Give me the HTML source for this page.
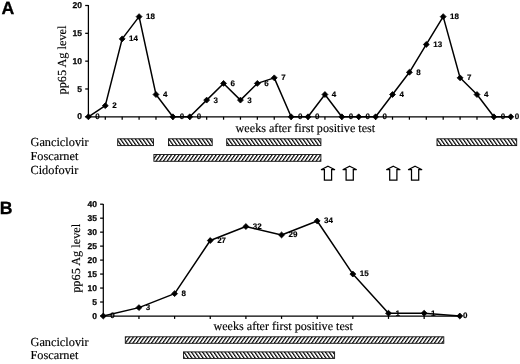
<!DOCTYPE html>
<html><head><meta charset="utf-8"><title>Figure</title>
<style>
html,body{margin:0;padding:0;background:#fff;}
body{width:520px;height:364px;overflow:hidden;font-family:"Liberation Sans",sans-serif;}
svg{display:block;filter:grayscale(1)}
text{text-rendering:geometricPrecision}
.s{font-family:"Liberation Serif",serif;font-size:12.3px;fill:#000;stroke:#000;stroke-width:0.15px}
.b{font-family:"Liberation Sans",sans-serif;font-weight:bold;font-size:8.5px;fill:#000;stroke:#000;stroke-width:0.25px}
.l{font-family:"Liberation Sans",sans-serif;font-weight:bold;font-size:8px;fill:#000;stroke:#000;stroke-width:0.15px}
.x{font-family:"Liberation Serif",serif;font-size:12.15px;fill:#000;stroke:#000;stroke-width:0.15px}
.p{font-family:"Liberation Sans",sans-serif;font-weight:bold;font-size:17.7px;fill:#000;stroke:#000;stroke-width:0.3px}
</style></head><body>
<svg width="520" height="364" viewBox="0 0 520 364">
<defs>
<pattern id="hb" width="3.05" height="10" patternUnits="userSpaceOnUse" patternTransform="rotate(-35)"><rect width="3.05" height="10" fill="#fff"/><rect width="1.2" height="10" fill="#000"/></pattern>
<pattern id="hf" width="3.05" height="10" patternUnits="userSpaceOnUse" patternTransform="rotate(35)"><rect width="3.05" height="10" fill="#fff"/><rect width="1.2" height="10" fill="#000"/></pattern>
</defs>
<rect width="520" height="364" fill="#fff"/>

<g stroke="#000" stroke-width="1.25" fill="none">
<path d="M88.40 5V116.8H510.5"/>
<path d="M85.20 116.80H88.40"/>
<path d="M85.20 88.97H88.40"/>
<path d="M85.20 61.15H88.40"/>
<path d="M85.20 33.32H88.40"/>
<path d="M85.20 5.50H88.40"/>
<path d="M105.30 116.8V119.7"/>
<path d="M122.19 116.8V119.7"/>
<path d="M139.09 116.8V119.7"/>
<path d="M155.98 116.8V119.7"/>
<path d="M172.88 116.8V119.7"/>
<path d="M189.77 116.8V119.7"/>
<path d="M206.67 116.8V119.7"/>
<path d="M223.56 116.8V119.7"/>
<path d="M240.46 116.8V119.7"/>
<path d="M257.35 116.8V119.7"/>
<path d="M274.25 116.8V119.7"/>
<path d="M291.14 116.8V119.7"/>
<path d="M308.03 116.8V119.7"/>
<path d="M324.93 116.8V119.7"/>
<path d="M341.82 116.8V119.7"/>
<path d="M358.72 116.8V119.7"/>
<path d="M375.62 116.8V119.7"/>
<path d="M392.51 116.8V119.7"/>
<path d="M409.40 116.8V119.7"/>
<path d="M426.30 116.8V119.7"/>
<path d="M443.20 116.8V119.7"/>
<path d="M460.09 116.8V119.7"/>
<path d="M476.99 116.8V119.7"/>
<path d="M493.88 116.8V119.7"/>
<path d="M510.77 116.8V119.7"/>
</g>
<text class="b" x="82.00" y="119.40" text-anchor="end">0</text>
<text class="b" x="82.00" y="91.57" text-anchor="end">5</text>
<text class="b" x="82.00" y="63.75" text-anchor="end">10</text>
<text class="b" x="82.00" y="35.92" text-anchor="end">15</text>
<text class="b" x="82.00" y="8.10" text-anchor="end">20</text>
<polyline fill="none" stroke="#000" stroke-width="1.5" stroke-linejoin="round" points="88.40,116.80 105.30,105.67 122.19,38.89 139.09,16.63 155.98,94.54 172.88,116.80 189.77,116.80 206.67,100.10 223.56,83.41 240.46,100.10 257.35,83.41 274.25,77.84 291.14,116.80 308.03,116.80 324.93,94.54 341.82,116.80 358.72,116.80 375.62,116.80 392.51,94.54 409.40,72.28 426.30,44.45 443.20,16.63 460.09,77.84 476.99,94.54 493.88,116.80 510.77,116.80"/>
<g fill="#000" stroke="#000" stroke-width="0.8" stroke-linejoin="round"><path d="M85.45 116.80L88.40 113.85L91.35 116.80L88.40 119.75Z"/><path d="M102.34 105.67L105.30 102.72L108.25 105.67L105.30 108.62Z"/><path d="M119.24 38.89L122.19 35.94L125.14 38.89L122.19 41.84Z"/><path d="M136.14 16.63L139.09 13.68L142.03 16.63L139.09 19.58Z"/><path d="M153.03 94.54L155.98 91.59L158.93 94.54L155.98 97.49Z"/><path d="M169.93 116.80L172.88 113.85L175.82 116.80L172.88 119.75Z"/><path d="M186.82 116.80L189.77 113.85L192.72 116.80L189.77 119.75Z"/><path d="M203.72 100.10L206.67 97.15L209.62 100.10L206.67 103.05Z"/><path d="M220.61 83.41L223.56 80.46L226.51 83.41L223.56 86.36Z"/><path d="M237.51 100.10L240.46 97.15L243.41 100.10L240.46 103.05Z"/><path d="M254.40 83.41L257.35 80.46L260.30 83.41L257.35 86.36Z"/><path d="M271.30 77.84L274.25 74.89L277.19 77.84L274.25 80.80Z"/><path d="M288.19 116.80L291.14 113.85L294.09 116.80L291.14 119.75Z"/><path d="M305.08 116.80L308.03 113.85L310.98 116.80L308.03 119.75Z"/><path d="M321.98 94.54L324.93 91.59L327.88 94.54L324.93 97.49Z"/><path d="M338.88 116.80L341.82 113.85L344.77 116.80L341.82 119.75Z"/><path d="M355.77 116.80L358.72 113.85L361.67 116.80L358.72 119.75Z"/><path d="M372.67 116.80L375.62 113.85L378.56 116.80L375.62 119.75Z"/><path d="M389.56 94.54L392.51 91.59L395.46 94.54L392.51 97.49Z"/><path d="M406.45 72.28L409.40 69.33L412.35 72.28L409.40 75.23Z"/><path d="M423.35 44.45L426.30 41.50L429.25 44.45L426.30 47.41Z"/><path d="M440.25 16.63L443.20 13.68L446.15 16.63L443.20 19.58Z"/><path d="M457.14 77.84L460.09 74.89L463.04 77.84L460.09 80.80Z"/><path d="M474.04 94.54L476.99 91.59L479.94 94.54L476.99 97.49Z"/><path d="M490.93 116.80L493.88 113.85L496.83 116.80L493.88 119.75Z"/><path d="M507.82 116.80L510.77 113.85L513.73 116.80L510.77 119.75Z"/></g>
<text class="l" x="95.30" y="119.20">0</text>
<text class="l" x="112.20" y="108.07">2</text>
<text class="l" x="129.09" y="41.29">14</text>
<text class="l" x="145.99" y="19.03">18</text>
<text class="l" x="162.88" y="96.94">4</text>
<text class="l" x="179.78" y="119.20">0</text>
<text class="l" x="196.67" y="119.20">0</text>
<text class="l" x="213.57" y="102.50">3</text>
<text class="l" x="230.46" y="85.81">6</text>
<text class="l" x="247.36" y="102.50">3</text>
<text class="l" x="264.25" y="85.81">6</text>
<text class="l" x="281.14" y="80.25">7</text>
<text class="l" x="298.04" y="119.20">0</text>
<text class="l" x="314.93" y="119.20">0</text>
<text class="l" x="331.83" y="96.94">4</text>
<text class="l" x="348.72" y="119.20">0</text>
<text class="l" x="365.62" y="119.20">0</text>
<text class="l" x="382.51" y="119.20">0</text>
<text class="l" x="399.41" y="96.94">4</text>
<text class="l" x="416.30" y="74.68">8</text>
<text class="l" x="433.20" y="46.85">13</text>
<text class="l" x="450.10" y="19.03">18</text>
<text class="l" x="466.99" y="80.25">7</text>
<text class="l" x="483.88" y="96.94">4</text>
<text class="l" x="500.78" y="119.20">0</text>
<text class="l" x="514.67" y="119.20">0</text>
<g stroke="#000" stroke-width="1.25" fill="none">
<path d="M103.30 204V316.0H459.80"/>
<path d="M100.10 316.00H103.30"/>
<path d="M100.10 302.02H103.30"/>
<path d="M100.10 288.05H103.30"/>
<path d="M100.10 274.07H103.30"/>
<path d="M100.10 260.10H103.30"/>
<path d="M100.10 246.12H103.30"/>
<path d="M100.10 232.15H103.30"/>
<path d="M100.10 218.18H103.30"/>
<path d="M100.10 204.20H103.30"/>
<path d="M138.95 316.0V318.9"/>
<path d="M174.60 316.0V318.9"/>
<path d="M210.25 316.0V318.9"/>
<path d="M245.90 316.0V318.9"/>
<path d="M281.55 316.0V318.9"/>
<path d="M317.20 316.0V318.9"/>
<path d="M352.85 316.0V318.9"/>
<path d="M388.50 316.0V318.9"/>
<path d="M424.15 316.0V318.9"/>
</g>
<text class="b" x="96.90" y="318.60" text-anchor="end">0</text>
<text class="b" x="96.90" y="304.62" text-anchor="end">5</text>
<text class="b" x="96.90" y="290.65" text-anchor="end">10</text>
<text class="b" x="96.90" y="276.68" text-anchor="end">15</text>
<text class="b" x="96.90" y="262.70" text-anchor="end">20</text>
<text class="b" x="96.90" y="248.72" text-anchor="end">25</text>
<text class="b" x="96.90" y="234.75" text-anchor="end">30</text>
<text class="b" x="96.90" y="220.78" text-anchor="end">35</text>
<text class="b" x="96.90" y="206.80" text-anchor="end">40</text>
<polyline fill="none" stroke="#000" stroke-width="1.5" stroke-linejoin="round" points="103.30,316.00 138.95,307.62 174.60,293.64 210.25,240.53 245.90,226.56 281.55,234.94 317.20,220.97 352.85,274.07 388.50,313.20 424.15,313.20 459.80,316.00"/>
<g fill="#000" stroke="#000" stroke-width="0.8" stroke-linejoin="round"><path d="M100.35 316.00L103.30 313.05L106.25 316.00L103.30 318.95Z"/><path d="M136.00 307.62L138.95 304.67L141.90 307.62L138.95 310.56Z"/><path d="M171.65 293.64L174.60 290.69L177.55 293.64L174.60 296.59Z"/><path d="M207.30 240.53L210.25 237.59L213.20 240.53L210.25 243.48Z"/><path d="M242.95 226.56L245.90 223.61L248.85 226.56L245.90 229.51Z"/><path d="M278.60 234.94L281.55 232.00L284.50 234.94L281.55 237.89Z"/><path d="M314.25 220.97L317.20 218.02L320.15 220.97L317.20 223.92Z"/><path d="M349.90 274.07L352.85 271.12L355.80 274.07L352.85 277.02Z"/><path d="M385.55 313.20L388.50 310.25L391.45 313.20L388.50 316.15Z"/><path d="M421.20 313.20L424.15 310.25L427.10 313.20L424.15 316.15Z"/><path d="M456.85 316.00L459.80 313.05L462.75 316.00L459.80 318.95Z"/></g>
<text class="l" x="110.20" y="318.40">0</text>
<text class="l" x="145.85" y="310.01">3</text>
<text class="l" x="181.50" y="296.04">8</text>
<text class="l" x="217.15" y="242.94">27</text>
<text class="l" x="252.80" y="228.96">32</text>
<text class="l" x="288.45" y="237.34">29</text>
<text class="l" x="324.10" y="223.37">34</text>
<text class="l" x="359.75" y="276.47">15</text>
<text class="l" x="395.40" y="315.60">1</text>
<text class="l" x="431.05" y="315.60">1</text>
<text class="l" x="463.10" y="318.40">0</text>
<text class="p" x="1.5" y="13.9">A</text>
<text class="p" x="-0.3" y="213.6">B</text>
<text class="s" transform="translate(66,60) rotate(-90)" text-anchor="middle">pp65 Ag level</text>
<text class="s" transform="translate(79.6,258.3) rotate(-90)" text-anchor="middle">pp65 Ag level</text>
<text class="x" x="235.6" y="132.2">weeks after first positive test</text>
<text class="x" x="213.4" y="330.2">weeks after first positive test</text>
<text class="s" x="30.5" y="145.7">Ganciclovir</text>
<text class="s" x="30.5" y="159.6">Foscarnet</text>
<text class="s" x="30.5" y="173.8">Cidofovir</text>
<text class="s" x="30.5" y="345.5">Ganciclovir</text>
<text class="s" x="30.5" y="359.3">Foscarnet</text>
<rect x="117.70" y="138.80" width="35.80" height="6.80" fill="url(#hb)" stroke="#111" stroke-width="0.9"/>
<rect x="168.50" y="138.80" width="43.70" height="6.80" fill="url(#hb)" stroke="#111" stroke-width="0.9"/>
<rect x="226.70" y="138.80" width="94.20" height="6.80" fill="url(#hb)" stroke="#111" stroke-width="0.9"/>
<rect x="437.00" y="138.80" width="79.70" height="6.80" fill="url(#hb)" stroke="#111" stroke-width="0.9"/>
<rect x="153.90" y="154.50" width="167.00" height="6.80" fill="url(#hf)" stroke="#111" stroke-width="0.9"/>
<rect x="125.30" y="336.80" width="318.50" height="6.50" fill="url(#hf)" stroke="#111" stroke-width="0.9"/>
<rect x="183.50" y="351.90" width="151.10" height="6.50" fill="url(#hb)" stroke="#111" stroke-width="0.9"/>
<path d="M328.00 166.2L335.00 169.7H331.60V180.2H324.40V169.7H321.00Z" fill="#fff" stroke="#000" stroke-width="1.25" stroke-linejoin="miter"/>
<path d="M349.70 166.2L356.70 169.7H353.30V180.2H346.10V169.7H342.70Z" fill="#fff" stroke="#000" stroke-width="1.25" stroke-linejoin="miter"/>
<path d="M393.30 166.2L400.30 169.7H396.90V180.2H389.70V169.7H386.30Z" fill="#fff" stroke="#000" stroke-width="1.25" stroke-linejoin="miter"/>
<path d="M415.10 166.2L422.10 169.7H418.70V180.2H411.50V169.7H408.10Z" fill="#fff" stroke="#000" stroke-width="1.25" stroke-linejoin="miter"/>
</svg></body></html>
